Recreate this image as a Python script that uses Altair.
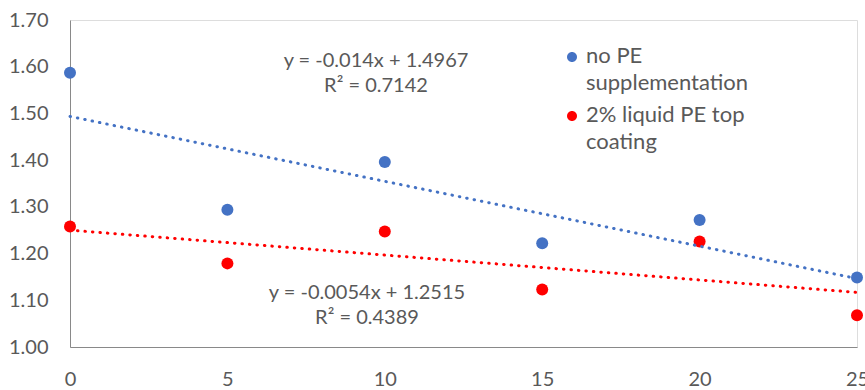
import altair as alt
import pandas as pd

FONT = "Lato"
TEXT_COLOR = "#595959"
AXIS_COLOR = "#898989"

# ---- data ----
days = [0, 5, 10, 15, 20, 25]
no_pe = [1.587, 1.294, 1.396, 1.222, 1.272, 1.149]
liquid_pe = [1.258, 1.179, 1.247, 1.123, 1.226, 1.068]
series_names = ["no PE supplementation", "2% liquid PE top coating"]
series_colors = ["#4472C4", "#FF0000"]
eq_no_pe = "y = -0.014x + 1.4967\nR² = 0.7142"
eq_liquid = "y = -0.0054x + 1.2515\nR² = 0.4389"
x_ticks = [0, 5, 10, 15, 20, 25]
y_ticks = [1.00, 1.10, 1.20, 1.30, 1.40, 1.50, 1.60, 1.70]

rows = []
for name, vals in zip(series_names, [no_pe, liquid_pe]):
    for d, v in zip(days, vals):
        rows.append({"day": d, "value": v, "series": name})
df = pd.DataFrame(rows)

x_scale = alt.Scale(domain=[0, 25], nice=False, zero=False)
y_scale = alt.Scale(domain=[1.0, 1.7], nice=False, zero=False)
color_scale = alt.Scale(domain=series_names, range=series_colors)

x_axis = alt.Axis(values=x_ticks, format="d", title=None, grid=False, ticks=False,
                  tickSize=0, labelPadding=22, domainColor=AXIS_COLOR, domainWidth=1,
                  labelFont=FONT, labelFontSize=20, labelColor=TEXT_COLOR, labelFlush=False)
y_axis = alt.Axis(values=y_ticks, format=".2f", title=None, grid=False, ticks=False,
                  tickSize=0, labelPadding=22, domainColor=AXIS_COLOR, domainWidth=1,
                  labelFont=FONT, labelFontSize=20, labelColor=TEXT_COLOR, labelFlush=False)

# legend symbol: circle shifted down so it sits on the first line of a two-line label
shifted_circle = "M -1 2.2 A 1 1 0 1 1 1 2.2 A 1 1 0 1 1 -1 2.2 Z"
legend = alt.Legend(
    title=None, orient="none", legendX=491, legendY=15, padding=0,
    symbolType=shifted_circle, symbolSize=100, symbolStrokeWidth=0, symbolOpacity=1,
    labelFont=FONT, labelFontSize=22, labelColor=TEXT_COLOR, labelBaseline="top",
    labelOffset=3, labelLimit=0, rowPadding=0,
    labelExpr="datum.label == 'no PE supplementation' ? ['no PE', 'supplementation'] : ['2% liquid PE top', 'coating']",
)

base = alt.Chart(df)

points = base.mark_point(filled=True, size=144, opacity=1).encode(
    x=alt.X("day:Q", scale=x_scale, axis=x_axis),
    y=alt.Y("value:Q", scale=y_scale, axis=y_axis),
    color=alt.Color("series:N", scale=color_scale, legend=legend),
)

trend = base.transform_regression(
    "day", "value", groupby=["series"], extent=[0, 25]
).mark_line(strokeDash=[0.5, 7], strokeWidth=3, strokeCap="round").encode(
    x=alt.X("day:Q", scale=x_scale),
    y=alt.Y("value:Q", scale=y_scale),
    stroke=alt.Stroke("series:N", scale=color_scale, legend=None),
)

eq1 = alt.Chart(pd.DataFrame({"t": [eq_no_pe]})).mark_text(
    font=FONT, fontSize=20, color=TEXT_COLOR, align="center", baseline="alphabetic",
    lineBreak="\n", lineHeight=25,
).encode(x=alt.value(306), y=alt.value(47), text="t:N")

eq2 = alt.Chart(pd.DataFrame({"t": [eq_liquid]})).mark_text(
    font=FONT, fontSize=20, color=TEXT_COLOR, align="center", baseline="alphabetic",
    lineBreak="\n", lineHeight=25,
).encode(x=alt.value(297), y=alt.value(279), text="t:N")

chart = alt.layer(points, trend, eq1, eq2).properties(
    width=787, height=327,
    autosize=alt.AutoSizeParams(type="none"),
    padding={"left": 70, "top": 20, "right": 8, "bottom": 43},
).configure_view(stroke=None).configure(
    style={"guide-label": {"lineHeight": 27}}
)

chart.save("out.html", embed_options={"renderer": "svg", "actions": False})
